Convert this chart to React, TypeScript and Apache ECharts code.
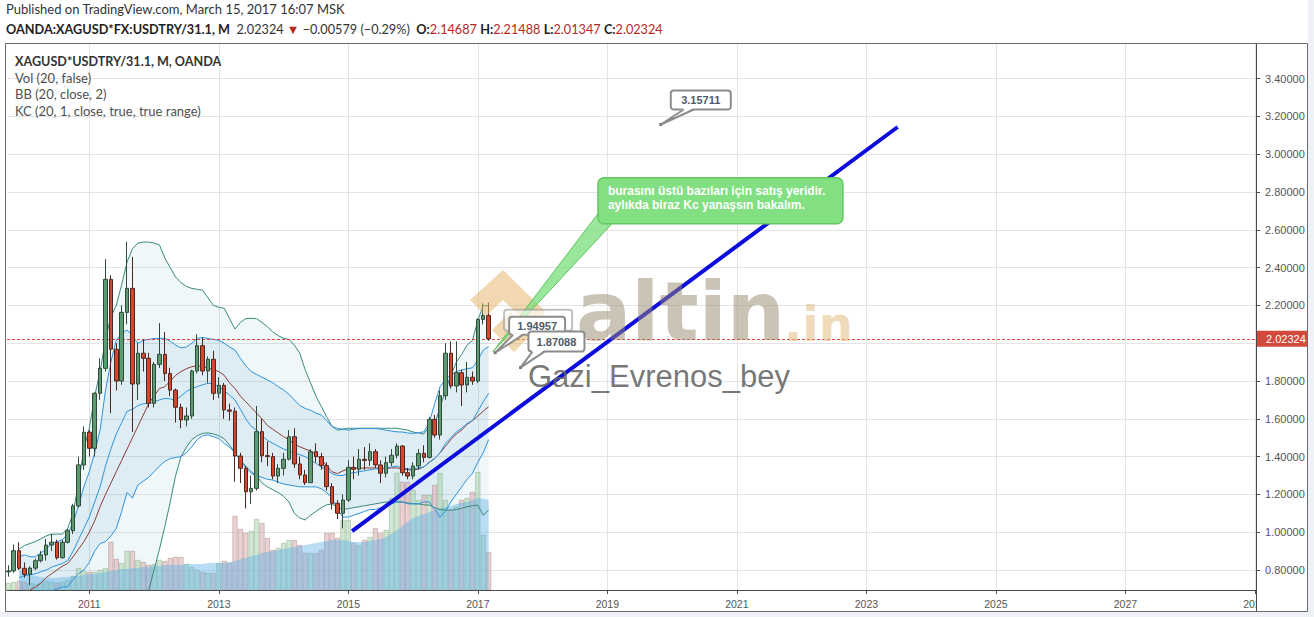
import React, { useEffect, useRef } from "react";
import * as echarts from "echarts";

// Month offsets are counted from January 2011 (0 = Jan 2011, 72 = Jan 2017).
const FIRST_BAR_MONTH = -15; // Oct 2009
const FIRST_INDICATOR_MONTH = -13; // Dec 2009

// Monthly bars: [open, close, low, high]
const candles: number[][] = [
  [0.79, 0.795, 0.765, 0.825], [0.795, 0.902, 0.785, 0.935], [0.902, 0.809, 0.8, 0.947],
  [0.809, 0.777, 0.76, 0.84], [0.777, 0.81, 0.72, 0.82], [0.81, 0.849, 0.8, 0.86],
  [0.849, 0.88, 0.84, 0.9], [0.88, 0.932, 0.85, 0.965], [0.932, 0.947, 0.9, 0.99],
  [0.947, 0.865, 0.855, 0.96], [0.865, 0.947, 0.86, 0.96], [0.947, 1.008, 0.94, 1.02],
  [1.008, 1.139, 0.99, 1.15], [1.139, 1.356, 1.13, 1.4], [1.356, 1.529, 1.33, 1.56],
  // 2011
  [1.529, 1.444, 1.4, 1.54], [1.444, 1.735, 1.4, 1.74], [1.735, 1.867, 1.7, 1.92],
  [1.867, 2.338, 1.85, 2.444], [2.338, 1.968, 1.63, 2.36], [1.968, 1.8, 1.75, 2.0],
  [1.8, 2.163, 1.78, 2.2], [2.163, 2.29, 2.1, 2.537], [2.29, 1.784, 1.53, 2.457],
  [1.784, 1.947, 1.7, 2.0], [1.947, 1.92, 1.85, 2.02], [1.92, 1.682, 1.66, 1.95],
  // 2012
  [1.682, 1.888, 1.66, 1.9], [1.888, 1.941, 1.87, 2.107], [1.941, 1.84, 1.8, 2.06],
  [1.84, 1.752, 1.72, 1.87], [1.752, 1.661, 1.58, 1.76], [1.661, 1.594, 1.55, 1.68],
  [1.594, 1.615, 1.56, 1.66], [1.615, 1.853, 1.6, 1.86], [1.853, 1.987, 1.84, 2.047],
  [1.987, 1.853, 1.83, 2.03], [1.853, 1.915, 1.79, 1.93], [1.915, 1.735, 1.7, 1.96],
  // 2013
  [1.735, 1.777, 1.71, 1.82], [1.777, 1.647, 1.6, 1.79], [1.647, 1.64, 1.59, 1.68],
  [1.64, 1.403, 1.267, 1.66], [1.403, 1.338, 1.26, 1.42], [1.338, 1.214, 1.126, 1.35],
  [1.214, 1.232, 1.15, 1.3], [1.232, 1.532, 1.22, 1.668], [1.532, 1.405, 1.37, 1.6],
  [1.405, 1.4, 1.35, 1.48], [1.4, 1.297, 1.28, 1.42], [1.297, 1.338, 1.26, 1.36],
  // 2014
  [1.338, 1.386, 1.3, 1.42], [1.386, 1.505, 1.38, 1.54], [1.505, 1.361, 1.34, 1.55],
  [1.361, 1.303, 1.28, 1.4], [1.303, 1.262, 1.25, 1.33], [1.262, 1.426, 1.26, 1.44],
  [1.426, 1.4, 1.37, 1.47], [1.4, 1.352, 1.33, 1.42], [1.352, 1.241, 1.22, 1.37],
  [1.241, 1.153, 1.12, 1.26], [1.153, 1.1, 1.07, 1.17], [1.1, 1.17, 1.02, 1.2],
  // 2015
  [1.17, 1.343, 1.16, 1.38], [1.343, 1.333, 1.28, 1.4], [1.333, 1.386, 1.3, 1.44],
  [1.386, 1.38, 1.33, 1.45], [1.38, 1.426, 1.35, 1.47], [1.426, 1.356, 1.34, 1.44],
  [1.356, 1.312, 1.26, 1.38], [1.312, 1.368, 1.29, 1.4], [1.368, 1.407, 1.35, 1.44],
  [1.407, 1.456, 1.39, 1.47], [1.456, 1.315, 1.3, 1.46], [1.315, 1.297, 1.28, 1.34],
  // 2016
  [1.297, 1.35, 1.28, 1.37], [1.35, 1.417, 1.33, 1.44], [1.417, 1.396, 1.37, 1.46],
  [1.396, 1.597, 1.39, 1.61], [1.597, 1.514, 1.5, 1.62], [1.514, 1.722, 1.49, 1.75],
  [1.722, 1.947, 1.7, 2.0], [1.947, 1.774, 1.76, 2.01], [1.774, 1.844, 1.74, 2.01],
  [1.844, 1.779, 1.668, 1.86], [1.779, 1.82, 1.74, 1.9], [1.82, 1.8, 1.78, 1.85],
  // 2017
  [1.8, 2.126, 1.79, 2.13], [2.126, 2.147, 2.1, 2.211], [2.14687, 2.02324, 2.01347, 2.21488],
];

// Monthly volume (thousand ticks)
const volumes: number[] = [
  7, 8, 9, 8, 7, 6, 7, 9, 8, 7, 8, 10, 14, 22, 19,
  18, 18, 20, 22, 48, 31, 27, 39, 39, 30, 28, 25,
  26, 30, 29, 32, 33, 33, 26, 23, 20, 18, 17, 17,
  27, 29, 27, 74, 61, 57, 59, 71, 67, 52, 40, 42,
  47, 50, 50, 45, 37, 37, 37, 40, 57, 57, 52, 70,
  70, 47, 45, 50, 53, 62, 57, 60, 92, 117, 108, 108,
  100, 90, 95, 95, 105, 117, 90, 80, 83, 90, 92, 98,
  118, 55, 38,
];

// Vol (20): moving average of volume, from Dec 2009
const volumeMa: number[] = [
  20, 18, 16, 14, 13, 12, 12, 12, 13, 13, 14, 14, 15,
  16, 16, 17, 18, 19, 20, 21, 21, 22, 22, 23, 23,
  24, 24, 25, 25, 25, 25, 26, 26, 26, 26, 27, 27,
  27, 27, 28, 29, 31, 32, 34, 35, 37, 38, 39, 40,
  41, 42, 43, 44, 45, 46, 47, 48, 49, 50, 50, 50,
  49, 48, 48, 48, 49, 50, 51, 53, 56, 60, 64, 68,
  72, 74, 76, 78, 80, 82, 83, 84, 86, 87, 88, 90,
  92, 91, 90,
];

// BB (20, close, 2), from Dec 2009
const bbUpper: number[] = [
  0.91, 0.93, 0.94, 0.95, 0.965, 0.98, 0.99, 0.99, 0.99, 1.02, 1.1, 1.26, 1.44,
  1.55, 1.72, 1.85, 2.02, 2.14, 2.2, 2.31, 2.43, 2.5, 2.53, 2.535, 2.535,
  2.53, 2.52, 2.45, 2.4, 2.35, 2.32, 2.3, 2.29, 2.285, 2.28, 2.24, 2.2,
  2.19, 2.185, 2.13, 2.075, 2.11, 2.13, 2.132, 2.13, 2.11, 2.087, 2.06, 2.04,
  2.026, 2.02, 1.99, 1.947, 1.86, 1.79, 1.72, 1.665, 1.61, 1.56, 1.54, 1.545,
  1.55, 1.55, 1.55, 1.55, 1.55, 1.55, 1.55, 1.55, 1.55, 1.55, 1.545, 1.54,
  1.53, 1.525, 1.52, 1.56, 1.57, 1.66, 1.75, 1.83, 1.9, 1.94, 1.99, 2.015,
  2.12, 2.2, 2.197,
];
const bbBasis: number[] = [
  0.62, 0.66, 0.694, 0.71, 0.73, 0.76, 0.78, 0.8, 0.82, 0.835, 0.87, 0.91, 0.95,
  1.0, 1.06, 1.135, 1.2, 1.26, 1.32, 1.38, 1.44, 1.5, 1.56, 1.62, 1.68,
  1.72, 1.76, 1.77, 1.8, 1.83, 1.85, 1.865, 1.876, 1.88, 1.876, 1.87, 1.86,
  1.85, 1.83, 1.79, 1.76, 1.72, 1.69, 1.66, 1.63, 1.6, 1.565, 1.545, 1.525,
  1.505, 1.49, 1.465, 1.452, 1.44, 1.43, 1.41, 1.385, 1.35, 1.32, 1.31, 1.325,
  1.335, 1.338, 1.338, 1.34, 1.34, 1.34, 1.338, 1.338, 1.34, 1.34, 1.335, 1.33,
  1.328, 1.335, 1.345, 1.37, 1.39, 1.42, 1.455, 1.49, 1.52, 1.54, 1.57, 1.59,
  1.615, 1.64, 1.664,
];
const bbLower: number[] = [
  0.6, 0.61, 0.63, 0.65, 0.66, 0.66, 0.67, 0.67, 0.68, 0.67, 0.64, 0.56, 0.48,
  0.45, 0.4, 0.36, 0.29, 0.3, 0.36, 0.4, 0.45, 0.5, 0.57, 0.63, 0.69,
  0.8, 0.91, 1.03, 1.16, 1.3, 1.4, 1.45, 1.49, 1.51, 1.523, 1.525, 1.52,
  1.51, 1.495, 1.46, 1.42, 1.38, 1.35, 1.32, 1.3, 1.26, 1.24, 1.225, 1.21,
  1.19, 1.16, 1.1, 1.075, 1.065, 1.09, 1.11, 1.13, 1.145, 1.15, 1.13, 1.12,
  1.125, 1.13, 1.135, 1.14, 1.145, 1.15, 1.155, 1.16, 1.16, 1.16, 1.16, 1.155,
  1.15, 1.15, 1.145, 1.143, 1.13, 1.12, 1.117, 1.117, 1.12, 1.126, 1.135, 1.14,
  1.143, 1.09, 1.117,
];

// KC (20, 1, close, true, true range), from Dec 2009
const kcUpper: number[] = [
  0.87, 0.88, 0.87, 0.87, 0.89, 0.91, 0.94, 0.95, 0.96, 0.99, 1.05, 1.14, 1.24,
  1.32, 1.42, 1.54, 1.75, 1.9, 2.017, 2.05, 2.07, 2.04, 2.0, 2.015, 2.02,
  2.025, 2.026, 2.026, 2.01, 1.99, 1.975, 1.98, 2.0, 2.026, 2.03, 2.025, 2.02,
  2.015, 2.0, 1.98, 1.964, 1.92, 1.88, 1.85, 1.835, 1.82, 1.806, 1.79, 1.77,
  1.753, 1.73, 1.7, 1.67, 1.655, 1.645, 1.63, 1.62, 1.59, 1.558, 1.55, 1.545,
  1.54, 1.545, 1.549, 1.549, 1.549, 1.549, 1.545, 1.54, 1.535, 1.531, 1.53, 1.525,
  1.523, 1.527, 1.531, 1.58, 1.68, 1.77, 1.81, 1.832, 1.85, 1.858, 1.865, 1.87,
  1.91, 1.964, 1.982,
];
const kcBasis: number[] = [
  0.76, 0.77, 0.775, 0.78, 0.79, 0.8, 0.815, 0.825, 0.835, 0.85, 0.9, 0.96, 1.02,
  1.08, 1.16, 1.24, 1.35, 1.44, 1.52, 1.58, 1.64, 1.65, 1.67, 1.68, 1.68,
  1.69, 1.7, 1.708, 1.705, 1.7, 1.72, 1.745, 1.76, 1.77, 1.78, 1.788, 1.785,
  1.77, 1.75, 1.725, 1.699, 1.65, 1.6, 1.56, 1.54, 1.51, 1.487, 1.47, 1.455,
  1.44, 1.43, 1.42, 1.41, 1.4, 1.38, 1.365, 1.345, 1.33, 1.31, 1.3, 1.3,
  1.31, 1.315, 1.32, 1.325, 1.33, 1.335, 1.335, 1.34, 1.345, 1.35, 1.34, 1.335,
  1.335, 1.34, 1.345, 1.37, 1.39, 1.42, 1.47, 1.5, 1.53, 1.55, 1.575, 1.59,
  1.64, 1.69, 1.735,
];
const kcLower: number[] = [
  0.65, 0.66, 0.68, 0.69, 0.69, 0.69, 0.69, 0.7, 0.71, 0.71, 0.75, 0.78, 0.8,
  0.84, 0.9, 0.94, 0.95, 0.98, 1.02, 1.11, 1.21, 1.18, 1.25, 1.27, 1.29,
  1.32, 1.35, 1.375, 1.39, 1.395, 1.4, 1.42, 1.452, 1.49, 1.51, 1.515, 1.505,
  1.496, 1.47, 1.45, 1.42, 1.38, 1.34, 1.31, 1.3, 1.29, 1.28, 1.276, 1.265,
  1.255, 1.25, 1.245, 1.24, 1.24, 1.24, 1.24, 1.23, 1.21, 1.18, 1.12, 1.08,
  1.08, 1.09, 1.1, 1.11, 1.12, 1.12, 1.13, 1.14, 1.15, 1.16, 1.16, 1.15,
  1.15, 1.15, 1.16, 1.16, 1.12, 1.08, 1.11, 1.16, 1.2, 1.24, 1.28, 1.31,
  1.37, 1.42, 1.49,
];

// Axis ticks (the 2.00000 label sits under the last-price tag)
const yearLabels: number[] = [2011, 2013, 2015, 2017, 2019, 2021, 2023, 2025, 2027, 2029];
const priceTicks: number[] = [0.8, 1.0, 1.2, 1.4, 1.6, 1.8, 2.0, 2.2, 2.4, 2.6, 2.8, 3.0, 3.2, 3.4];
const priceLabels: number[] = [0.8, 1.0, 1.2, 1.4, 1.6, 1.8, 2.2, 2.4, 2.6, 2.8, 3.0, 3.2, 3.4];

// Hand-drawn trend line: [month, price]
const trendLine: number[][] = [[48.7, 1.006], [149.8, 3.144]];

// Last bar summary
const LAST = { open: 2.14687, high: 2.21488, low: 2.01347, close: 2.02324, change: -0.00579, pct: -0.29 };

// Price notes: [month, price]
const noteHigh = { month: 105.9, price: 3.15711 };
const noteMid = { month: 75.2, price: 1.94957 };
const noteLow = { month: 79.9, price: 1.87088 };
const noteGreen = { month: 74.8, price: 1.955 };
const commentLines = ["burasını üstü bazıları için satış yeridir.", "aylıkda biraz Kc yanaşsın bakalım."];

const UI_FONT = "Lato, 'Liberation Sans', Arial, sans-serif";
const AXIS_FONT = "'Liberation Sans', Arial, sans-serif";

const barMonth = (i: number) => FIRST_BAR_MONTH + i;
const indMonth = (i: number) => FIRST_INDICATOR_MONTH + i;
const pairs = (arr: number[]) => arr.map((v, i) => [indMonth(i), v]);

function lineSeries(name: string, arr: number[], color: string, z = 4) {
  return {
    name,
    type: "line",
    data: pairs(arr),
    symbol: "none",
    silent: true,
    z,
    lineStyle: { color, width: 1 },
  };
}

// Filled channel between two indicator lines, drawn as one polygon in data space
function bandSeries(name: string, lower: number[], upper: number[], fill: string) {
  return {
    name,
    type: "custom",
    silent: true,
    z: 1,
    data: [[indMonth(0), upper[0]]],
    renderItem: (params: any, api: any) => {
      const pts: number[][] = [];
      upper.forEach((u, i) => pts.push(api.coord([indMonth(i), u])));
      for (let i = lower.length - 1; i >= 0; i--) pts.push(api.coord([indMonth(i), lower[i]]));
      const cs = params.coordSys;
      return {
        type: "group",
        clipPath: { type: "rect", shape: { x: cs.x, y: cs.y, width: cs.width, height: cs.height } },
        children: [{ type: "polygon", shape: { points: pts }, style: { fill } }],
      };
    },
  };
}

function buildOption() {
  const yearMonths = yearLabels.map((y) => (y - 2011) * 12);
  return {
    animation: false,
    backgroundColor: "#ffffff",
    grid: { left: 7, top: 44, width: 1249, height: 546 },
    xAxis: {
      type: "value",
      min: -15.25,
      max: 216.2,
      axisLine: { show: true, onZero: false, lineStyle: { color: "#4a4a4a" } },
      axisTick: { show: true, customValues: yearMonths, length: 4, lineStyle: { color: "#4a4a4a" } },
      axisLabel: {
        customValues: yearMonths,
        formatter: (v: number) => String(Math.round(2011 + v / 12)),
        color: "#555",
        fontSize: 10.5,
        fontFamily: AXIS_FONT,
        margin: 8,
      },
      splitLine: { show: true, lineStyle: { color: "#e4e4e4" } },
    },
    yAxis: [
      {
        type: "value",
        position: "right",
        min: 0.6942,
        max: 3.5831,
        axisLine: { show: true, onZero: false, lineStyle: { color: "#4a4a4a" } },
        axisTick: { show: true, customValues: priceTicks, length: 4, lineStyle: { color: "#4a4a4a" } },
        axisLabel: {
          customValues: priceLabels,
          formatter: (v: number) => v.toFixed(5),
          color: "#555",
          fontSize: 11,
          fontFamily: AXIS_FONT,
          margin: 9,
        },
        splitLine: { show: true, lineStyle: { color: "#e4e4e4" } },
      },
      { type: "value", min: 0, max: 546, show: false, axisLine: { onZero: false } },
    ],
    series: [
      bandSeries("BB band", bbLower, bbUpper, "rgba(70,150,160,0.08)"),
      bandSeries("KC band", kcLower, kcUpper, "rgba(40,140,215,0.09)"),
      {
        name: "Volume",
        type: "bar",
        yAxisIndex: 1,
        barWidth: 5,
        silent: true,
        z: 2,
        data: volumes.map((v, i) => {
          const up = candles[i][1] >= candles[i][0];
          return {
            value: [barMonth(i), v],
            itemStyle: up
              ? { color: "rgba(165,210,165,0.5)", borderColor: "rgba(110,150,110,0.6)", borderWidth: 0.6 }
              : { color: "rgba(215,165,165,0.5)", borderColor: "rgba(150,110,110,0.6)", borderWidth: 0.6 },
          };
        }),
      },
      {
        name: "Vol MA",
        type: "line",
        yAxisIndex: 1,
        data: pairs(volumeMa),
        symbol: "none",
        silent: true,
        z: 3,
        lineStyle: { width: 0 },
        areaStyle: { color: "rgba(95,178,232,0.62)" },
      },
      lineSeries("BB upper", bbUpper, "#3a8a7a"),
      lineSeries("BB lower", bbLower, "#3a8a7a"),
      lineSeries("BB basis", bbBasis, "#8e3a36"),
      lineSeries("KC upper", kcUpper, "#2f93dc"),
      lineSeries("KC basis", kcBasis, "#2f93dc"),
      lineSeries("KC lower", kcLower, "#2f93dc"),
      {
        name: "Price",
        type: "candlestick",
        barWidth: 4,
        z: 5,
        silent: true,
        data: candles.map((c, i) => [barMonth(i), c[0], c[1], c[2], c[3]]),
        encode: { x: 0, y: [1, 2, 3, 4] },
        itemStyle: {
          color: "#5c9b72",
          color0: "#d4472f",
          borderColor: "#2f4a38",
          borderColor0: "#4e2720",
          borderWidth: 1,
        },
        markLine: {
          silent: true,
          symbol: "none",
          label: { show: false },
          lineStyle: { color: "#e2341f", type: [3, 2], width: 1, opacity: 0.9 },
          data: [{ yAxis: LAST.close }],
        },
      },
      {
        name: "Trend",
        type: "line",
        data: trendLine,
        symbol: "none",
        silent: true,
        z: 6,
        lineStyle: { color: "#0c0cdc", width: 4 },
      },
    ],
  };
}

type ToPx = (m: number, v: number) => number[];

function callout(ax: number, ay: number, dx: number, dy: number, w: number, h: number, t1: number, t2: number, text: string) {
  const bx = ax + dx;
  const by = ay + dy;
  const stroke = "#8c8c8c";
  return [
    { type: "rect", z: 120, silent: true, shape: { x: bx, y: by, width: w, height: h, r: 3 }, style: { fill: "#ffffff", stroke, lineWidth: 2 } },
    { type: "polygon", z: 121, silent: true, shape: { points: [[bx + t1, by + h - 1.5], [bx + t2, by + h - 1.5], [ax, ay]] }, style: { fill: "#ffffff" } },
    { type: "polyline", z: 122, silent: true, shape: { points: [[bx + t1, by + h], [ax, ay], [bx + t2, by + h]] }, style: { stroke, lineWidth: 2, fill: null } },
    { type: "rect", z: 123, silent: true, shape: { x: ax - 1.5, y: ay - 1.5, width: 3, height: 3 }, style: { fill: "#808080" } },
    {
      type: "text", z: 124, silent: true, x: bx + w / 2, y: by + h / 2,
      style: { text, fill: "#4f5c68", fontSize: 11, fontWeight: "bold", fontFamily: AXIS_FONT, align: "center", verticalAlign: "middle", textAlign: "center", textVerticalAlign: "middle" },
    },
  ];
}

function txt(x: number, y: number, text: string, extra: any, z = 110) {
  return {
    type: "text", z, silent: true, x, y,
    style: { text, verticalAlign: "middle", textVerticalAlign: "middle", ...extra },
  };
}

function buildGraphics(toPx: ToPx) {
  const els: any[] = [];
  // surround and frame
  els.push({ type: "rect", z: 0, silent: true, shape: { x: 1308, y: 0, width: 6, height: 617 }, style: { fill: "#eef1f5" } });
  els.push({ type: "rect", z: 0, silent: true, shape: { x: 0, y: 612, width: 1314, height: 5 }, style: { fill: "#eef1f5" } });
  els.push({ type: "rect", z: 130, silent: true, shape: { x: 1257, y: 591, width: 50, height: 20 }, style: { fill: "#ffffff" } });
  els.push({ type: "rect", z: 131, silent: true, shape: { x: 5.5, y: 43.5, width: 1302, height: 568 }, style: { fill: null, stroke: "#6b6b6b", lineWidth: 1 } });
  els.push({ type: "line", z: 131, silent: true, shape: { x1: 1256.5, y1: 590, x2: 1256.5, y2: 611 }, style: { stroke: "#4a4a4a", lineWidth: 1 } });

  // header
  els.push(txt(6, 9, "Published on TradingView.com, March 15, 2017 16:07 MSK", { fill: "#333", fontSize: 13, fontFamily: UI_FONT }));
  const sign = LAST.change < 0 ? "−" : "+";
  const head =
    `{b|OANDA:XAGUSD*FX:USDTRY/31.1, M}{n|  ${LAST.close.toFixed(5)} }{r|▼}{n| ${sign}${Math.abs(LAST.change).toFixed(5)} (${sign}${Math.abs(LAST.pct).toFixed(2)}%)  }` +
    `{b|O:}{r|${LAST.open.toFixed(5)}}{n| }{b|H:}{r|${LAST.high.toFixed(5)}}{n| }{b|L:}{r|${LAST.low.toFixed(5)}}{n| }{b|C:}{r|${LAST.close.toFixed(5)}}`;
  els.push({
    type: "text", z: 110, silent: true, x: 6, y: 29,
    style: {
      text: head,
      verticalAlign: "middle",
      textVerticalAlign: "middle",
      fontSize: 12.5,
      fontFamily: UI_FONT,
      rich: {
        b: { fontWeight: "bold", fontSize: 12.7, fontFamily: UI_FONT, fill: "#1e1e1e", color: "#1e1e1e" },
        n: { fontSize: 12.7, fontFamily: UI_FONT, fill: "#333", color: "#333" },
        r: { fontSize: 12.7, fontFamily: UI_FONT, fill: "#b8281e", color: "#b8281e" },
      },
    },
  });

  // study legend
  els.push(txt(15, 61, "XAGUSD*USDTRY/31.1, M, OANDA", { fill: "#333", fontSize: 12.6, fontWeight: "bold", fontFamily: UI_FONT }));
  els.push(txt(15, 77.5, "Vol (20, false)", { fill: "#505050", fontSize: 13, fontFamily: UI_FONT }));
  els.push(txt(15, 94, "BB (20, close, 2)", { fill: "#505050", fontSize: 13, fontFamily: UI_FONT }));
  els.push(txt(15, 111, "KC (20, 1, close, true, true range)", { fill: "#505050", fontSize: 13, fontFamily: UI_FONT }));

  // watermark
  const tan = "rgba(230,178,100,0.5)";
  els.push({ type: "polygon", z: 100, silent: true, shape: { points: [[470, 300], [503, 270], [546, 312], [530, 326], [503, 300], [486, 316]] }, style: { fill: tan } });
  els.push({ type: "polygon", z: 100, silent: true, shape: { points: [[492, 330], [510, 312], [532, 334], [514, 352]] }, style: { fill: tan } });
  els.push(txt(576, 311, "altin", { fill: "rgba(150,135,110,0.5)", fontSize: 82, fontWeight: "bold", fontFamily: "'DejaVu Sans', sans-serif" }, 100));
  els.push(txt(784, 324, ".in", { fill: "rgba(226,186,125,0.55)", fontSize: 48, fontWeight: "bold", fontFamily: "'DejaVu Sans', sans-serif" }, 100));
  els.push(txt(528, 376, "Gazi_Evrenos_bey", { fill: "rgba(95,95,95,0.85)", fontSize: 31, fontFamily: AXIS_FONT }, 100));

  // last price tag on the price scale
  const yLast = toPx(0, LAST.close)[1];
  els.push({ type: "rect", z: 132, silent: true, shape: { x: 1257, y: yLast - 8, width: 50, height: 16 }, style: { fill: "#d24a3b" } });
  els.push(txt(1266, yLast, LAST.close.toFixed(5), { fill: "#ffffff", fontSize: 11, fontFamily: AXIS_FONT }, 133));

  // green comment with its pointer
  const g = toPx(noteGreen.month, noteGreen.price);
  const gx = g[0] + 105;
  const gy = g[1] - 174;
  els.push({ type: "polygon", z: 115, silent: true, shape: { points: [[g[0], g[1]], [gx, gy + 36], [gx + 14, gy + 46]] }, style: { fill: "rgba(120,222,120,0.75)", stroke: "rgba(85,190,85,0.9)", lineWidth: 1 } });
  els.push({ type: "rect", z: 116, silent: true, shape: { x: gx, y: gy, width: 245, height: 46, r: 6 }, style: { fill: "#82df82", stroke: "#62c862", lineWidth: 1.5 } });
  els.push(txt(gx + 10, gy + 13, commentLines[0], { fill: "#ffffff", fontSize: 12, fontWeight: "bold", fontFamily: AXIS_FONT }, 117));
  els.push(txt(gx + 10, gy + 27, commentLines[1], { fill: "#ffffff", fontSize: 12, fontWeight: "bold", fontFamily: AXIS_FONT }, 117));

  // price notes
  const hi = toPx(noteHigh.month, noteHigh.price);
  els.push(...callout(hi[0], hi[1], 10, -34, 60, 19, 13, 23, noteHigh.price.toFixed(5)));
  const mid = toPx(noteMid.month, noteMid.price);
  els.push({ type: "rect", z: 119, silent: true, shape: { x: mid[0] + 9, y: mid[1] - 43, width: 68, height: 21, r: 3 }, style: { fill: "rgba(255,255,255,0.6)", stroke: "rgba(140,140,140,0.55)", lineWidth: 2 } });
  els.push(...callout(mid[0], mid[1], 14, -36, 56, 18, 4, 14, noteMid.price.toFixed(5)));
  const lo = toPx(noteLow.month, noteLow.price);
  els.push(...callout(lo[0], lo[1], 8, -36, 56, 20, 4, 16, noteLow.price.toFixed(5)));

  return els;
}

export default function App() {
  const ref = useRef<HTMLDivElement>(null);
  useEffect(() => {
    document.body.style.margin = "0";
    const chart = echarts.init(ref.current as HTMLDivElement, null, { renderer: "svg" });
    chart.setOption(buildOption() as any);
    const toPx: ToPx = (m, v) => chart.convertToPixel({ xAxisIndex: 0, yAxisIndex: 0 } as any, [m, v]) as number[];
    chart.setOption({ graphic: buildGraphics(toPx) } as any);
    return () => chart.dispose();
  }, []);
  return <div ref={ref} style={{ position: "fixed", left: 0, top: 0, width: 1314, height: 617 }} />;
}
